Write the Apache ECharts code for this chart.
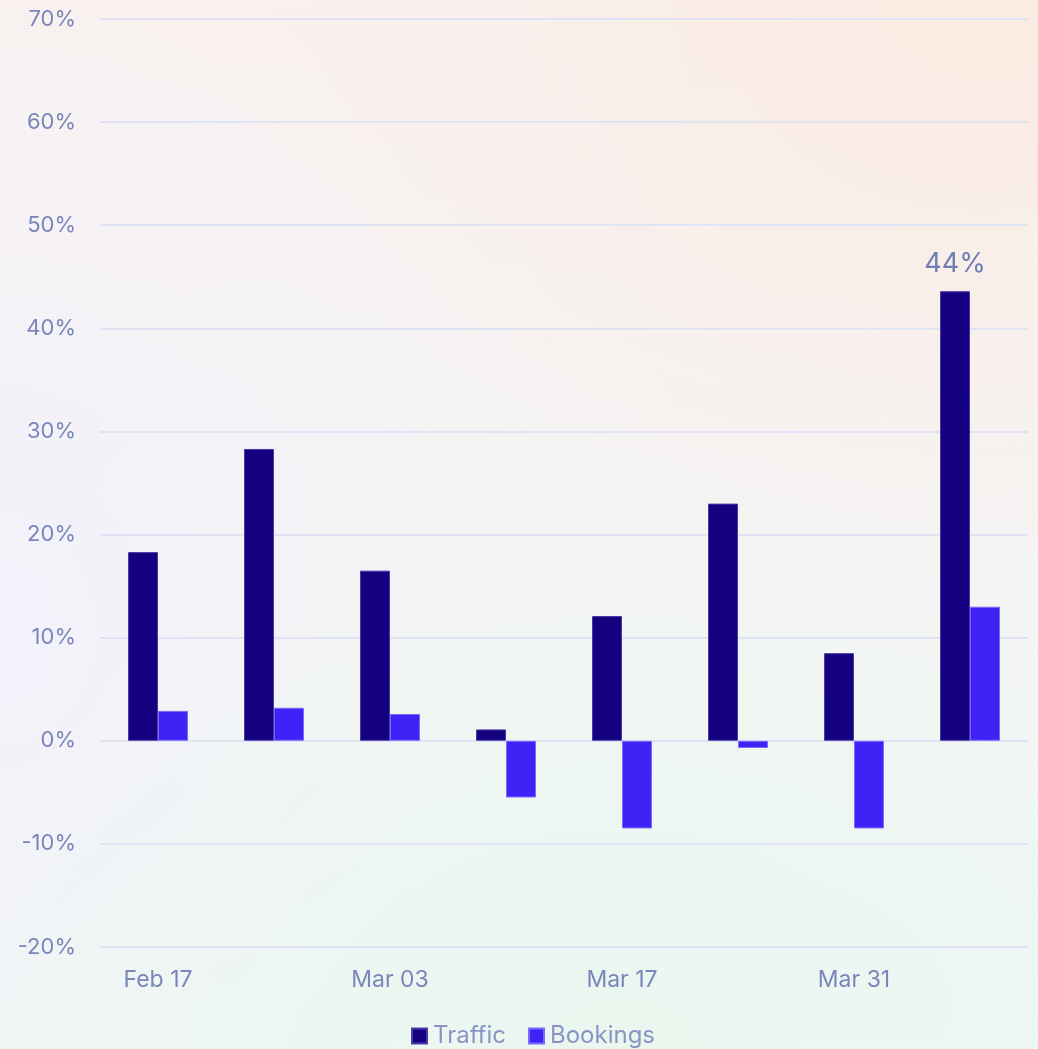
<!DOCTYPE html>
<html>
<head>
<meta charset="utf-8">
<script src="https://cdn.jsdelivr.net/npm/echarts@6/dist/echarts.min.js"></script>
<style>
html, body { margin: 0; padding: 0; }
body {
    width: 1038px; height: 1049px;
    background:
        radial-gradient(ellipse 70% 55% at 95% 0%, #fbebe2 0%, rgba(251,235,226,0) 100%),
        radial-gradient(ellipse 70% 50% at 60% 100%, #e9f7ef 0%, rgba(233,247,239,0) 100%),
        radial-gradient(ellipse 50% 60% at 0% 60%, #f3f1fa 0%, rgba(243,241,250,0) 100%),
        linear-gradient(180deg, #f9f1f0 0%, #f5f4f4 45%, #f1f7f5 100%);
}
#m1 { width: 1038px; height: 1049px; }
</style>
</head>
<body>
<div id="m1"></div>
<script>
// 周数据
var weeks = ['Feb 17', 'Feb 24', 'Mar 03', 'Mar 10', 'Mar 17', 'Mar 24', 'Mar 31', 'Apr 07'];
var traffic = [18.3, 28.3, 16.5, 1.1, 12.1, 23.0, 8.5, 43.6];
var bookings = [2.9, 3.2, 2.6, -5.5, -8.5, -0.7, -8.5, 13.0];
var yTicks = [-20, 70, 10];   // min, max, interval

var labelColor = '#7a86bb';

var myChart = echarts.init(document.getElementById('m1'));
var option = {
    backgroundColor: 'transparent',
    textStyle: { fontFamily: 'Inter, Roboto, sans-serif' },
    legend: {
        data: ['Traffic', 'Bookings'],
        bottom: -4,
        left: 406,
        icon: 'rect',
        itemWidth: 15,
        itemHeight: 15,
        itemGap: 22,
        textStyle: { color: '#8a94c4', fontSize: 24, padding: [0, 0, 0, 1] }
    },
    grid: {
        left: 100,
        right: 10,
        top: 19,
        bottom: 102,
        containLabel: false
    },
    xAxis: {
        type: 'category',
        data: weeks,
        axisLine: { show: false },
        axisTick: { show: false },
        axisLabel: {
            interval: 1,
            color: labelColor,
            fontSize: 23,
            margin: 22
        }
    },
    yAxis: {
        type: 'value',
        min: yTicks[0],
        max: yTicks[1],
        interval: yTicks[2],
        axisLabel: {
            color: labelColor,
            fontSize: 22,
            margin: 24,
            formatter: '{value}%'
        },
        splitLine: { lineStyle: { color: '#dfe3f3', width: 2 } }
    },
    series: [
        {
            name: 'Traffic',
            type: 'bar',
            barWidth: 30,
            barGap: '0%',
            itemStyle: { color: '#150080', borderColor: '#4a3aa8', borderWidth: 1 },
            data: traffic.map(function (v, i) {
                if (i === traffic.length - 1) {
                    return {
                        value: v,
                        label: {
                            show: true,
                            position: 'top',
                            distance: 14,
                            color: '#6f7db5',
                            fontSize: 27,
                            formatter: function (p) { return Math.round(p.value) + '%'; }
                        }
                    };
                }
                return v;
            })
        },
        {
            name: 'Bookings',
            type: 'bar',
            barWidth: 30,
            itemStyle: { color: '#3e22f6', borderColor: '#7b6af8', borderWidth: 1 },
            data: bookings
        }
    ]
};
myChart.setOption(option);
</script>
</body>
</html>
